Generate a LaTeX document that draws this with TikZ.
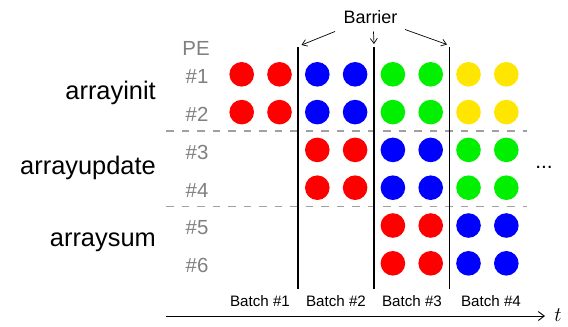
\documentclass[tikz,border=0pt]{standalone}
\usepackage{fontspec}
\setmainfont{Liberation Sans}
\usetikzlibrary{arrows.meta}
\definecolor{cred}{RGB}{255,0,0}
\definecolor{cblue}{RGB}{0,0,255}
\definecolor{cgreen}{RGB}{0,240,0}
\definecolor{cyellow}{RGB}{255,230,0}
\definecolor{pegray}{RGB}{128,128,128}
\definecolor{dashgray}{RGB}{160,160,160}
\tikzset{
  dot/.style={circle, inner sep=0pt, minimum size=24.6bp},
  pelabel/.style={text=pegray, font=\fontsize{20.5}{20.5}\selectfont, inner sep=0pt},
  kernel/.style={font=\fontsize{25.5}{25.5}\selectfont, inner sep=0pt, anchor=east},
  batchlabel/.style={font=\fontsize{15.2}{15.2}\selectfont, inner sep=0pt},
  barrierline/.style={line width=1.8bp, black},
  sepline/.style={dashgray, line width=1.3bp, dash pattern=on 7.5bp off 8bp},
  barrierarrow/.style={-{Straight Barb[length=5bp,width=7bp]}, line width=0.7bp},
}
\begin{document}
\begin{tikzpicture}[x=1bp,y=-1bp]
\useasboundingbox (0,0) rectangle (568,326);
% circles
\def\colx#1{241.7+37.8*(#1-1)}
\def\rowy#1{74.3+37.8*(#1-1)}
\foreach \c/\col in {1/cred,2/cred,3/cblue,4/cblue,5/cgreen,6/cgreen,7/cyellow,8/cyellow}{
  \foreach \r in {1,2}{
    \node[dot, fill=\col] (d\r-\c) at ({\colx{\c}},{\rowy{\r}}) {};
  }
}
\foreach \c/\col in {3/cred,4/cred,5/cblue,6/cblue,7/cgreen,8/cgreen}{
  \foreach \r in {3,4}{
    \node[dot, fill=\col] (d\r-\c) at ({\colx{\c}},{\rowy{\r}}) {};
  }
}
\foreach \c/\col in {5/cred,6/cred,7/cblue,8/cblue}{
  \foreach \r in {5,6}{
    \node[dot, fill=\col] (d\r-\c) at ({\colx{\c}},{\rowy{\r}}) {};
  }
}
% PE labels
\node[pelabel] (pe) at (196,48.5) {PE};
\foreach \r in {1,...,6}{
  \node[pelabel] (pe\r) at (197,{\rowy{\r}+2.5}) {\#\r};
}
% kernel labels
\node[kernel] (k1) at (156,93) {arrayinit};
\node[kernel] (k2) at (156,168) {arrayupdate};
\node[kernel] (k3) at (156,242) {arraysum};
% separators
\coordinate (s1a) at (166,131);
\coordinate (s1b) at (527,131);
\coordinate (s2a) at (166,206.5);
\coordinate (s2b) at (527,206.5);
\draw[sepline] (s1a) -- (s1b);
\draw[sepline] (s2a) -- (s2b);
% barriers
\coordinate (b1t) at (298,47);
\coordinate (b1b) at (298,289);
\coordinate (b2t) at (374,47);
\coordinate (b2b) at (374,289);
\coordinate (b3t) at (449.5,47);
\coordinate (b3b) at (449.5,289);
\draw[barrierline] (b1t) -- (b1b);
\draw[barrierline] (b2t) -- (b2b);
\draw[barrierline] (b3t) -- (b3b);
\node[font=\fontsize{18}{18}\selectfont, inner sep=0pt] (barrier) at (370.5,17.5) {Barrier};
\coordinate (a1s) at (335,31.5);
\coordinate (a1e) at (301.5,45);
\coordinate (a2s) at (373.5,31.5);
\coordinate (a2e) at (374,44);
\coordinate (a3s) at (405,29.5);
\coordinate (a3e) at (447,44.5);
\draw[barrierarrow] (a1s) -- (a1e);
\draw[barrierarrow] (a2s) -- (a2e);
\draw[barrierarrow] (a3s) -- (a3e);
% ellipsis
\node[font=\fontsize{21}{21}\selectfont, inner sep=0pt] (dots) at (544,167) {...};
% batch labels
\node[batchlabel] (bt1) at (260,301.5) {Batch \#1};
\node[batchlabel] (bt2) at (336,301.5) {Batch \#2};
\node[batchlabel] (bt3) at (412,301.5) {Batch \#3};
\node[batchlabel] (bt4) at (491,301.5) {Batch \#4};
% time axis
\coordinate (ta) at (166,316);
\coordinate (tb) at (545,316);
\draw[-{Straight Barb[length=6bp,width=9bp]}, line width=0.9bp] (ta) -- (tb);
\node[font=\fontsize{22}{22}\selectfont, inner sep=0pt] (tlabel) at (558,315) {$t$};
\end{tikzpicture}
\end{document}
